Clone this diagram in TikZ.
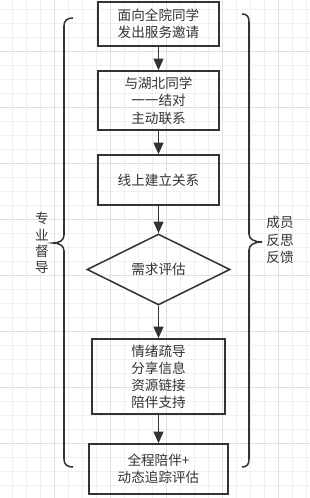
\documentclass[tikz,border=0pt]{standalone}
\usepackage{fontspec}
\setmainfont{Noto Sans CJK SC}
\usepackage{tikz}
\usetikzlibrary{positioning,arrows.meta,shapes.geometric}

\begin{document}
\begin{tikzpicture}[x=0.03cm,y=-0.03cm,
    stepbox/.style={rectangle,draw=black!80,line width=1.3pt,minimum width=3.63cm,
                    inner sep=0pt,align=center,text=black!80,
                    font=\fontsize{11.6}{14.9}\selectfont},
    decision/.style={diamond,draw=black!80,line width=1.3pt,minimum width=4.29cm,
                     minimum height=2.13cm,inner sep=0pt,text=black!80,
                     font=\fontsize{11.6}{14.9}\selectfont},
    sidetext/.style={align=center,inner sep=0pt,text=black!80},
    arrow/.style={-{Triangle[length=10pt,width=8.5pt]},line width=1.3pt,draw=black!80},
    brace/.style={draw=black!80,line width=1.3pt},
    gridminor/.style={draw=gray!12,line width=0.8pt},
    gridmajor/.style={draw=gray!24,line width=0.8pt}
]
\useasboundingbox (0,0) rectangle (310,498);

% background grid
\foreach \k in {0,...,21} \draw[gridminor] ({12.3+14*\k},0) -- ({12.3+14*\k},498);
\foreach \k in {0,...,34} \draw[gridminor] (0,{9+14*\k}) -- (310,{9+14*\k});
\foreach \k in {0,...,4} \draw[gridmajor] ({54.3+56*\k},0) -- ({54.3+56*\k},498);
\foreach \k in {0,...,7} \draw[gridmajor] (0,{51+56*\k}) -- (310,{51+56*\k});

% steps
\node[stepbox,minimum height=1.32cm] (invite)  at (158.5,24)    {面向全院同学\\发出服务邀请};
\node[stepbox,minimum height=1.77cm] (pair)    at (158.5,100.5) {与湖北同学\\一一结对\\主动联系};
\node[stepbox,minimum height=1.5cm]  (online)  at (158.5,180)   {线上建立关系};
\node[decision]                      (assess)  at (158.5,269.5) {需求评估};
\node[stepbox,minimum width=3.99cm,minimum height=2.25cm,
      font=\fontsize{11.6}{14.6}\selectfont] (support) at (158.5,376.5) {情绪疏导\\分享信息\\资源链接\\陪伴支持};
\node[stepbox,minimum width=4.17cm,minimum height=1.5cm] (track) at (158.5,469) {全程陪伴+\\动态追踪评估};

\draw[arrow] (invite) -- (pair);
\draw[arrow] (pair) -- (online);
\draw[arrow] (online) -- (assess);
\draw[arrow] (assess) -- (support);
\draw[arrow] (support) -- (track);

% braces
\draw[brace] (73,18) .. controls (67,18) and (64,20.5) .. (64,26) -- (64,235)
  .. controls (64,240) and (60,243) .. (53,243)
  .. controls (60,243) and (64,246) .. (64,251) -- (64,459)
  .. controls (64,464.5) and (67,467) .. (73,467);
\draw[brace] (242,14) .. controls (247,14) and (249,16.5) .. (249,22) -- (249,234)
  .. controls (249,239) and (254,242) .. (262,242)
  .. controls (254,242) and (249,245) .. (249,250) -- (249,459)
  .. controls (249,464.5) and (247,467) .. (242,467);

\node[sidetext,font=\fontsize{11.6}{14}\selectfont]   (supervise) at (42,243)  {专\\业\\督\\导};
\node[sidetext,font=\fontsize{11.6}{14.9}\selectfont] (reflect)   at (280,240) {成员\\反思\\反馈};
\end{tikzpicture}
\end{document}
